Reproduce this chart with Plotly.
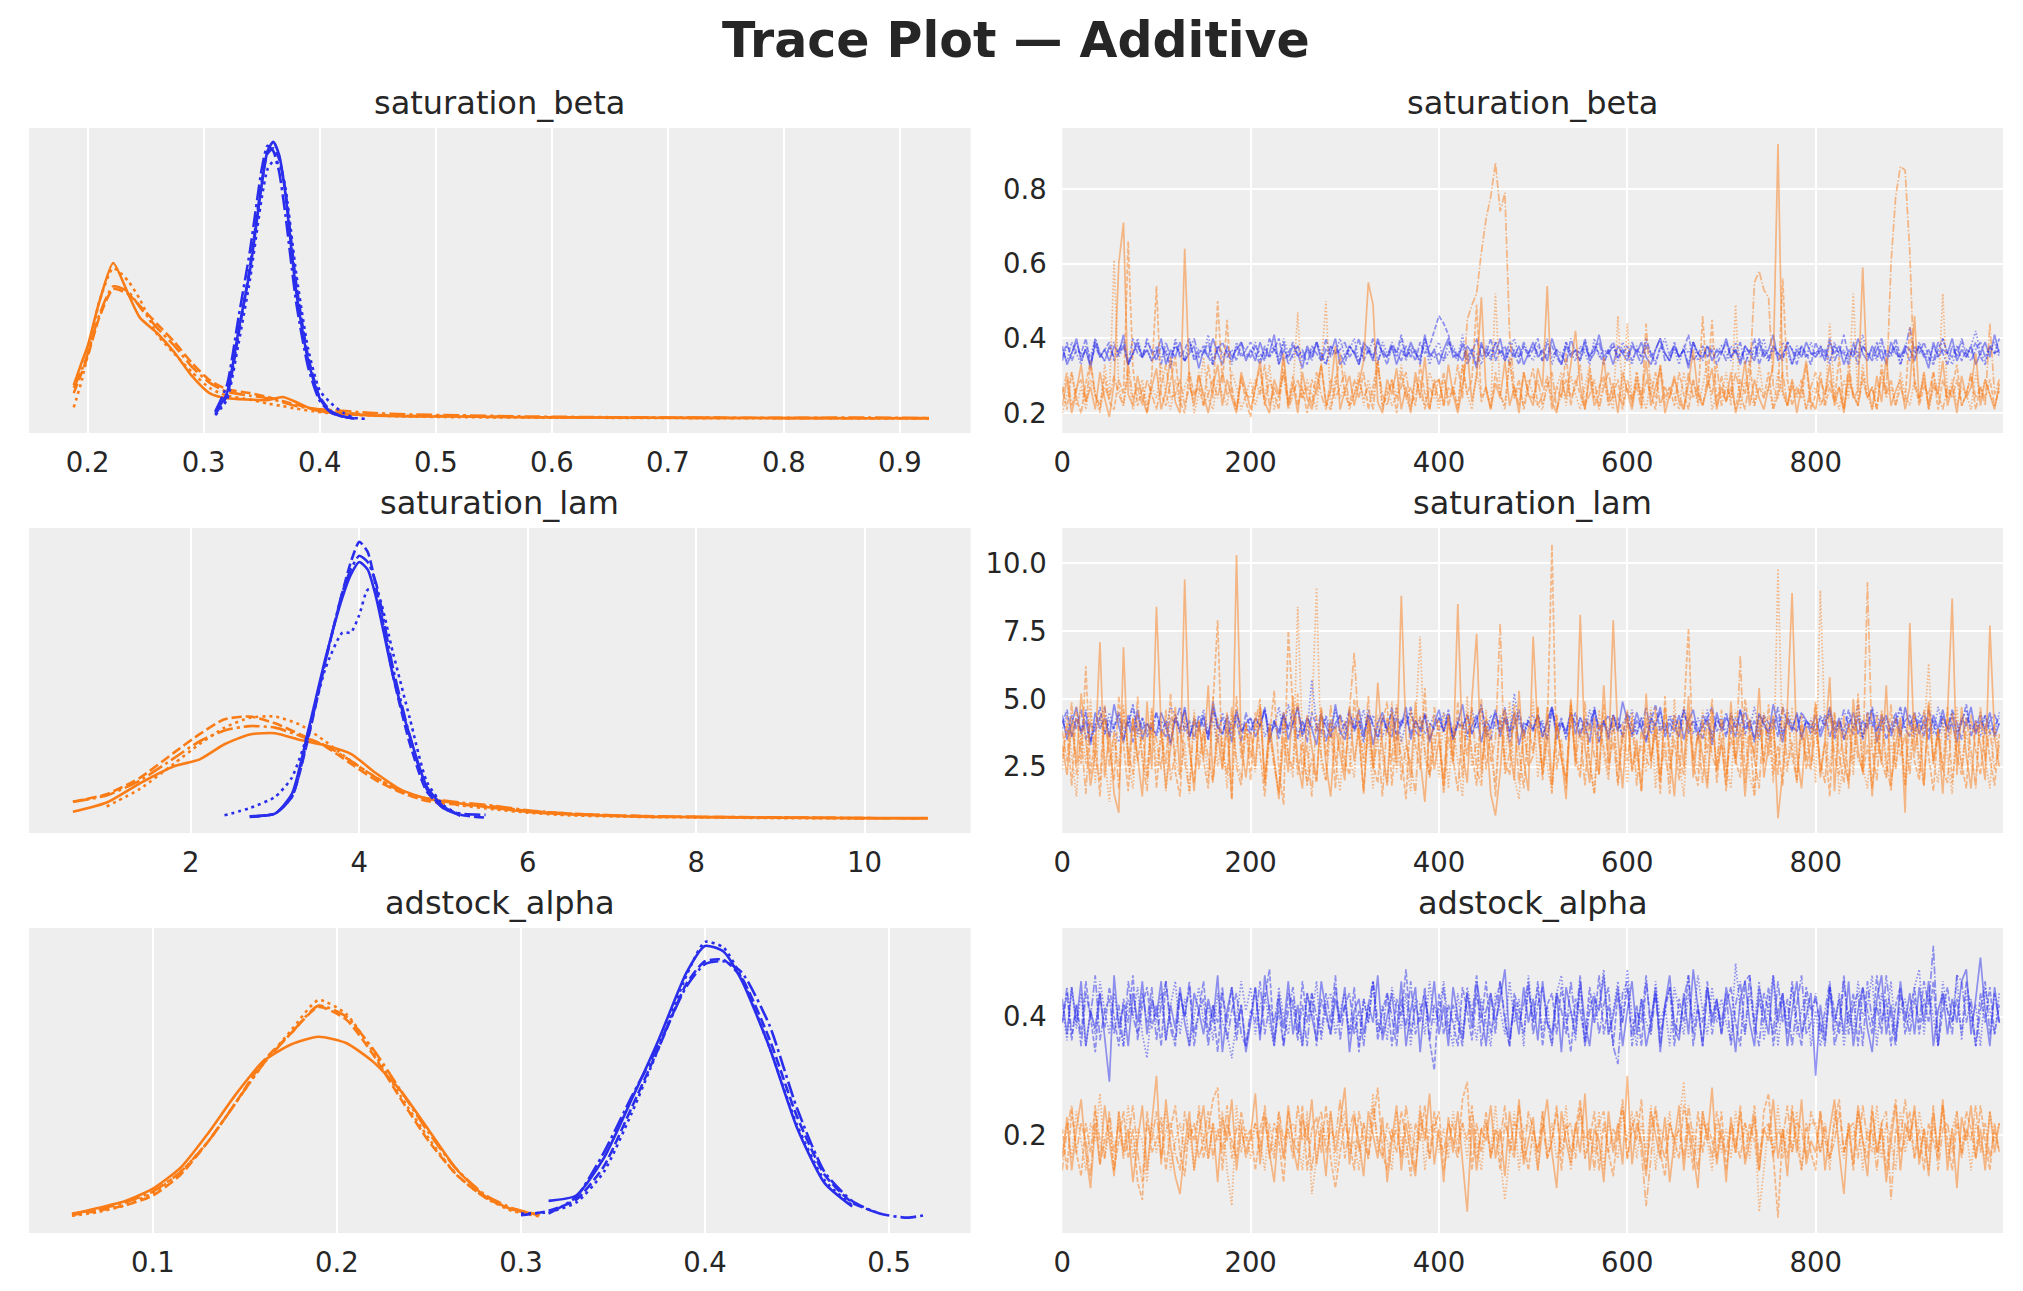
import plotly.graph_objects as go

# ---------------- KDE curves (left column), one list per chain ----------------
beta_blue_x = [0.31, 0.32, 0.33, 0.34, 0.35, 0.355, 0.36, 0.365, 0.37, 0.38, 0.39, 0.40, 0.41, 0.42, 0.43, 0.44]
beta_blue_kde = [
    [0.5, 2.0, 6.8, 11.5, 18.0, 20.6, 21.3, 20.3, 17.6, 9.6, 4.5, 1.6, 0.5, 0.2, 0.05, None],
    [0.4, 1.8, 6.5, 11.8, 18.2, 20.4, 20.8, 20.0, 17.8, 10.2, 4.8, 1.7, 0.6, 0.2, 0.05, None],
    [0.3, 1.5, 5.8, 10.8, 17.0, 19.2, 19.8, 19.6, 18.0, 11.0, 5.4, 2.2, 1.2, 0.5, 0.1, 0.02],
    [0.6, 2.6, 7.8, 13.0, 19.2, 21.0, 20.6, 19.0, 16.0, 8.8, 4.0, 1.4, 0.5, 0.2, 0.05, None],
]
beta_orange_x = [0.188, 0.195, 0.20, 0.21, 0.222, 0.235, 0.245, 0.26, 0.275, 0.29, 0.305, 0.32, 0.34, 0.355,
                 0.368, 0.38, 0.395, 0.41, 0.44, 0.48, 0.52, 0.58, 0.65, 0.72, 0.80, 0.87, 0.925]
beta_orange_kde = [
    [2.6, 4.4, 5.6, 9.0, 12.0, 9.6, 7.8, 6.6, 5.1, 3.3, 2.0, 1.6, 1.5, 1.45, 1.7, 1.3, 0.7, 0.5, 0.3, 0.2, 0.2, 0.15, 0.12, 0.1, 0.08, 0.07, 0.08],
    [2.0, 3.6, 4.8, 7.8, 10.0, 9.6, 8.7, 7.3, 5.9, 4.3, 3.0, 2.3, 2.0, 1.7, 1.4, 1.1, 0.8, 0.6, 0.35, 0.25, 0.22, 0.15, 0.12, 0.1, 0.08, 0.07, 0.06],
    [0.9, 3.0, 5.0, 9.0, 11.6, 10.6, 9.2, 6.5, 5.0, 3.6, 2.4, 1.8, 1.5, 1.2, 1.0, 0.8, 0.6, 0.45, 0.3, 0.2, 0.15, 0.12, 0.1, 0.08, 0.07, 0.06, 0.05],
    [2.4, 3.8, 5.0, 8.0, 10.2, 9.8, 8.6, 7.0, 5.6, 4.0, 2.8, 2.1, 1.8, 1.6, 1.3, 1.0, 0.8, 0.7, 0.5, 0.35, 0.3, 0.2, 0.15, 0.12, 0.1, 0.12, 0.08],
]

lam_blue_x = [2.4, 2.7, 3.0, 3.2, 3.4, 3.6, 3.8, 3.9, 4.0, 4.1, 4.2, 4.4, 4.6, 4.8, 5.0, 5.2, 5.5]
lam_blue_kde = [
    [None, 0.011, 0.022, 0.10, 0.36, 0.64, 0.88, 0.97, 1.02, 0.99, 0.88, 0.57, 0.33, 0.13, 0.05, 0.013, None],
    [None, 0.009, 0.022, 0.088, 0.33, 0.63, 0.90, 1.02, 1.10, 1.06, 0.92, 0.57, 0.30, 0.11, 0.044, 0.017, 0.006],
    [0.015, 0.044, 0.088, 0.165, 0.35, 0.60, 0.74, 0.74, 0.81, 0.91, 0.91, 0.66, 0.40, 0.15, 0.055, 0.017, None],
    [None, 0.011, 0.022, 0.088, 0.34, 0.63, 0.90, 0.99, 1.045, 1.02, 0.935, 0.60, 0.33, 0.12, 0.044, 0.022, 0.017],
]
lam_orange_x = [0.6, 1.0, 1.4, 1.8, 2.1, 2.4, 2.7, 3.0, 3.3, 3.6, 3.9, 4.2, 4.5, 4.8, 5.2, 5.6, 6.0,
                6.5, 7.0, 7.5, 8.0, 9.0, 10.0, 10.75]
lam_orange_kde = [
    [0.029, 0.066, 0.143, 0.21, 0.236, 0.297, 0.336, 0.341, 0.314, 0.292, 0.259, 0.182, 0.116, 0.081, 0.062, 0.044, 0.029, 0.019, 0.013, 0.009, 0.008, 0.006, 0.004, 0.004],
    [0.069, 0.099, 0.165, 0.264, 0.336, 0.396, 0.407, 0.38, 0.336, 0.288, 0.22, 0.154, 0.105, 0.072, 0.057, 0.05, 0.033, 0.022, 0.015, 0.011, 0.009, 0.006, 0.004, 0.003],
    [None, 0.05, 0.121, 0.22, 0.297, 0.363, 0.402, 0.407, 0.374, 0.308, 0.231, 0.165, 0.11, 0.077, 0.055, 0.039, 0.026, 0.015, 0.011, 0.008, 0.007, 0.004, 0.003, None],
    [0.069, 0.094, 0.154, 0.242, 0.308, 0.352, 0.369, 0.363, 0.33, 0.292, 0.231, 0.165, 0.11, 0.083, 0.066, 0.053, 0.035, 0.022, 0.015, 0.011, 0.009, 0.007, 0.004, 0.003],
]

alpha_blue_x = [0.30, 0.315, 0.33, 0.345, 0.36, 0.375, 0.39, 0.40, 0.41, 0.42, 0.435, 0.45, 0.465, 0.48, 0.495, 0.51, 0.52]
alpha_blue_kde = [
    [None, 0.99, 1.28, 3.3, 6.45, 9.75, 13.35, 14.78, 14.48, 12.9, 9.3, 4.95, 1.95, 0.68, None, None, None],
    [0.21, 0.45, 1.05, 2.85, 6.0, 9.3, 12.75, 13.95, 14.03, 13.05, 9.75, 5.55, 2.4, 0.9, 0.3, None, None],
    [0.3, 0.38, 0.9, 2.55, 5.7, 9.3, 13.2, 15.0, 14.7, 13.05, 9.3, 5.1, 2.1, 0.75, None, None, None],
    [None, 0.3, 1.2, 3.6, 6.6, 9.45, 12.6, 13.8, 13.95, 13.35, 10.5, 6.0, 2.55, 0.98, 0.3, 0.08, 0.23],
]
alpha_orange_x = [0.056, 0.07, 0.085, 0.10, 0.115, 0.13, 0.145, 0.16, 0.175, 0.19, 0.205, 0.22, 0.235,
                  0.25, 0.265, 0.28, 0.295, 0.31]
alpha_orange_kde = [
    [0.27, 0.6, 0.98, 1.65, 2.78, 4.65, 6.75, 8.55, 9.45, 9.87, 9.53, 8.48, 6.9, 4.8, 2.7, 1.28, 0.53, 0.23],
    [0.23, 0.45, 0.75, 1.28, 2.4, 4.2, 6.3, 8.55, 10.05, 11.48, 10.8, 8.85, 6.45, 4.2, 2.4, 1.2, 0.53, 0.23],
    [0.18, 0.38, 0.75, 1.43, 2.55, 4.2, 6.3, 8.4, 10.2, 11.85, 11.1, 9.0, 6.6, 4.35, 2.4, 1.2, 0.45, 0.15],
    [0.3, 0.53, 0.9, 1.5, 2.55, 4.2, 6.3, 8.4, 10.05, 11.55, 10.95, 9.15, 6.9, 4.65, 2.7, 1.35, 0.6, 0.23],
]

# ---------------- traces (right column), every 5th draw ----------------
draws = list(range(0, 1000, 5))

# saturation_beta, in hundredths
beta_blue_trace = [
    [38,33,36,40,34,37,32,39,35,37,34,38,36,41,33,36,39,35,37,34,
     36,40,33,37,35,39,34,36,38,32,37,35,40,36,33,38,35,37,39,34,
     37,34,39,35,36,41,33,37,35,38,36,32,38,35,39,34,37,36,40,33,
     35,38,36,33,39,37,34,40,36,35,38,33,37,35,39,36,34,41,35,37,
     33,37,40,35,36,34,38,36,32,39,35,37,36,40,34,37,35,38,33,36,
     39,35,37,34,40,36,33,38,35,37,36,39,34,36,41,35,37,33,38,36,
     34,38,36,39,35,33,37,40,36,34,38,35,37,32,39,36,35,38,34,37,
     36,40,35,37,33,38,36,34,39,35,37,41,34,36,38,33,37,35,39,36,
     35,37,34,39,36,38,33,37,35,40,36,34,38,35,37,33,39,36,35,38,
     37,34,38,36,32,39,35,37,36,40,34,37,35,38,33,36,39,35,41,36],
    [35,39,34,37,36,40,33,38,35,37,39,34,36,38,33,40,36,35,39,37,
     34,38,36,32,39,35,37,40,34,36,38,35,33,37,39,36,34,38,35,37,
     39,36,33,38,35,37,40,34,36,39,35,37,33,38,36,34,40,35,37,36,
     33,38,36,40,34,37,35,39,36,33,38,36,41,35,37,34,39,36,38,42,
     46,44,41,36,34,39,35,37,33,38,36,40,34,37,35,39,36,33,38,35,
     37,40,34,36,38,35,33,39,36,37,34,40,35,38,36,33,37,39,35,36,
     38,34,37,35,40,36,33,38,36,34,39,35,37,41,34,36,38,35,37,33,
     36,39,35,37,34,38,36,40,33,37,35,38,36,34,39,37,35,38,36,33,
     39,35,37,34,38,36,41,35,37,33,38,36,35,39,34,37,36,40,35,37,
     34,38,36,39,35,33,37,40,36,35,38,34,37,36,39,35,33,38,36,40],
    [37,34,39,36,33,38,35,40,36,34,37,39,35,38,33,36,40,35,37,34,
     38,35,37,33,40,36,34,39,35,37,36,41,34,38,35,37,33,39,36,35,
     36,39,34,37,35,38,33,40,36,35,38,34,37,36,39,35,33,38,36,40,
     35,37,40,34,36,38,35,33,39,36,37,35,40,34,38,36,35,39,33,37,
     39,34,36,38,35,41,34,37,36,33,38,35,39,36,34,37,40,35,38,36,
     34,38,36,40,33,37,35,39,36,34,38,36,33,40,35,37,36,38,34,39,
     36,33,38,35,39,36,34,37,40,35,37,33,38,36,39,34,37,35,38,36,
     38,36,34,39,35,37,33,38,36,40,34,37,35,39,36,33,38,36,35,39,
     35,38,36,33,39,35,37,34,38,36,41,35,37,34,39,36,35,38,33,37,
     37,35,39,36,34,38,35,40,36,33,37,39,35,38,42,36,34,37,39,35],
    [34,38,36,39,35,37,33,40,36,34,38,35,37,39,33,36,38,35,40,36,
     37,33,39,35,38,36,34,37,40,35,36,39,33,38,36,35,37,34,39,36,
     35,38,36,34,40,37,35,39,33,36,38,35,37,34,39,36,33,38,36,37,
     39,35,37,33,38,36,40,34,37,35,39,36,34,38,35,37,33,40,36,35,
     36,34,39,37,35,38,33,36,40,35,37,34,39,36,38,33,37,35,39,36,
     38,36,34,39,35,37,36,33,40,36,34,38,35,37,39,34,36,38,35,37,
     35,39,36,33,38,35,37,40,34,36,38,35,37,33,39,36,34,38,36,35,
     37,34,38,36,39,33,37,35,40,36,34,38,36,35,39,37,33,38,35,36,
     36,38,35,40,34,37,36,33,39,35,38,36,34,37,40,35,36,38,33,37,
     43,36,38,35,37,34,39,36,33,38,35,40,36,34,37,39,35,38,36,37],
]
beta_orange_trace = [
    [22,29,20,26,33,23,27,21,31,24,19,28,60,71,25,22,30,24,20,27,
     32,21,26,35,23,20,64,28,22,30,25,20,27,33,22,29,24,20,31,26,
     21,27,34,23,20,29,25,36,22,28,20,31,24,21,27,33,22,26,38,21,
     26,30,22,28,34,55,49,23,20,29,25,32,21,27,20,31,24,35,21,28,
     29,22,33,25,20,27,37,23,30,51,26,21,28,24,34,22,27,20,31,25,
     22,32,27,54,23,20,29,24,33,42,27,21,30,22,25,35,23,28,20,31,
     26,21,29,24,34,22,27,32,20,25,30,23,21,28,37,25,22,27,32,21,
     27,23,31,20,25,34,22,29,24,21,27,33,92,26,22,29,20,27,34,23,
     21,29,25,33,22,27,20,31,24,26,59,28,21,30,23,35,22,26,29,21,
     27,46,23,31,21,28,25,34,22,27,20,30,24,27,36,22,29,25,21,28],
    [27,21,31,24,20,28,34,25,22,30,23,21,29,25,66,32,22,27,20,30,
     54,25,22,29,35,23,20,31,25,27,22,33,24,50,28,45,25,21,30,23,
     19,27,32,22,29,25,21,34,23,30,22,27,20,29,25,33,23,21,27,36,
     25,22,29,24,31,21,27,34,22,25,29,20,31,24,27,22,33,25,21,29,
     23,31,22,27,21,33,25,29,49,23,27,21,31,25,22,35,24,29,21,27,
     32,22,25,30,21,27,24,36,22,29,25,21,32,24,27,30,22,25,29,21,
     27,23,31,22,29,25,21,33,24,27,22,31,25,21,29,23,46,27,45,22,
     30,23,27,21,29,25,34,22,27,24,31,21,25,56,29,22,27,24,33,21,
     25,31,22,27,23,35,21,29,25,22,31,24,27,21,33,25,29,22,27,23,
     43,29,22,27,25,31,21,29,24,27,33,22,25,30,21,27,24,29,22,26],
    [20,25,31,22,27,21,29,25,20,33,24,61,27,22,31,21,25,29,22,27,
     24,33,25,21,29,22,27,31,20,25,35,24,21,29,25,22,31,27,21,25,
     29,22,27,24,33,21,25,31,22,27,47,24,29,25,21,33,50,21,30,24,
     27,21,25,31,22,29,24,34,21,27,22,25,33,24,21,29,25,22,31,27,
     21,29,24,27,22,33,25,21,31,24,27,22,52,25,21,34,24,27,22,29,
     25,22,21,29,24,27,31,22,30,25,21,27,33,24,22,29,25,21,46,24,
     44,22,31,25,21,29,24,33,22,27,25,21,31,24,29,22,27,34,21,25,
     24,31,22,49,21,29,25,22,33,24,27,21,31,25,22,29,24,27,21,25,
     27,24,22,44,25,21,29,24,52,22,33,25,21,27,29,24,27,22,31,25,
     22,29,24,31,21,27,25,52,24,29,22,27,25,21,31,24,29,25,22,27],
    [25,31,22,27,29,23,33,25,21,27,24,30,25,22,33,24,27,22,29,25,
     21,27,33,24,25,29,22,27,24,31,22,25,29,24,31,25,27,21,29,25,
     24,29,25,33,22,27,24,31,21,25,29,24,27,22,31,25,21,29,24,27,
     31,22,25,29,24,27,21,33,25,22,29,24,27,31,22,25,29,21,27,24,
     29,22,27,25,33,24,45,49,52,63,72,78,87,74,79,41,27,22,31,25,
     24,29,22,27,31,21,25,29,24,27,33,22,25,29,21,27,31,24,25,22,
     29,24,27,21,44,25,31,22,27,24,29,25,21,31,24,27,22,29,25,33,
     22,27,24,31,25,21,29,55,58,53,51,27,24,31,22,27,25,29,21,27,
     31,22,25,29,24,27,21,33,25,22,29,24,27,21,31,25,60,78,86,85,
     63,27,24,29,22,31,25,21,27,24,29,22,25,31,24,27,22,44,25,29],
]

# saturation_lam, in tenths
lam_blue_trace = [
    [44,35,41,47,37,42,33,45,39,43,36,48,40,34,44,38,46,35,41,39,
     37,45,40,33,43,38,47,36,42,39,44,35,49,40,37,43,34,46,38,41,
     43,36,40,46,34,42,38,45,35,41,47,37,43,39,33,44,40,36,48,38,
     35,42,39,46,37,44,33,41,45,38,36,43,40,47,35,42,38,44,34,41,
     46,38,43,35,41,48,37,40,44,34,42,39,46,36,43,38,45,33,41,40,
     39,44,36,42,47,35,41,38,45,37,43,40,34,46,39,42,36,44,38,49,
     42,37,45,39,34,43,40,47,36,41,38,44,35,42,46,37,40,43,33,45,
     38,43,40,36,46,39,42,35,44,41,37,48,40,34,43,38,45,36,42,39,
     44,36,41,47,38,43,35,40,45,37,42,39,46,34,41,44,38,43,36,47,
     40,45,37,42,35,44,39,46,38,41,34,43,40,47,37,42,39,45,36,41],
    [41,46,36,43,38,45,34,40,47,37,42,39,44,35,41,48,38,43,36,40,
     45,37,42,34,44,39,46,36,41,38,43,35,47,40,37,44,39,42,34,45,
     38,43,40,47,35,41,37,44,39,46,36,42,34,45,40,38,43,36,41,44,
     37,45,39,42,34,46,40,36,43,38,47,35,41,44,37,42,39,45,35,40,
     43,38,46,35,41,39,44,37,42,48,36,40,45,38,43,34,41,46,37,42,
     39,44,36,41,47,38,43,35,40,45,37,42,39,46,34,41,44,38,43,36,
     45,40,37,43,35,42,48,38,41,36,44,39,46,37,42,40,35,43,47,38,
     41,36,44,39,46,37,42,34,45,40,38,43,36,47,41,39,44,35,42,40,
     37,43,40,45,35,42,38,46,39,44,36,41,47,38,43,35,40,45,37,42,
     44,38,42,36,46,40,35,43,39,45,37,41,48,36,42,39,44,37,40,43],
    [39,44,36,42,38,46,35,41,43,37,45,39,34,42,40,47,36,43,38,41,
     36,42,39,47,44,37,41,35,43,40,46,38,42,34,45,39,37,44,41,38,
     43,38,45,36,41,39,47,37,48,40,35,42,38,57,40,36,44,39,46,37,
     41,35,43,39,46,37,44,40,36,42,38,47,34,41,45,39,43,37,40,44,
     38,45,40,36,43,41,35,46,39,42,37,44,40,38,47,36,52,41,38,43,
     44,39,42,35,47,38,41,36,45,40,43,37,46,39,34,42,38,44,41,36,
     40,46,37,43,39,45,35,41,38,44,42,36,47,40,37,43,39,46,35,41,
     43,37,45,40,36,42,39,47,38,44,35,41,43,37,46,40,38,45,39,42,
     38,44,40,46,37,41,35,43,39,48,36,42,40,45,38,43,37,41,46,39,
     42,36,45,39,43,37,47,40,35,44,38,42,46,39,41,36,44,40,37,45],
    [42,37,44,39,46,35,41,38,43,47,36,40,45,38,42,34,44,39,41,37,
     45,39,36,43,41,47,38,42,35,44,40,37,46,39,43,36,41,45,38,40,
     37,43,40,46,38,42,35,44,39,41,47,36,43,40,38,45,34,42,39,44,
     40,46,38,42,36,44,41,35,43,39,45,37,42,40,47,38,36,44,41,39,
     43,38,45,36,41,40,44,37,42,47,39,35,43,41,46,38,40,44,36,42,
     38,44,40,35,46,39,42,37,45,41,36,43,40,47,38,42,35,44,39,41,
     44,36,42,39,47,37,41,45,38,43,40,36,46,39,42,35,44,41,37,43,
     39,45,37,43,40,46,38,42,35,44,41,39,47,36,43,40,38,45,42,37,
     41,38,44,36,42,39,46,40,37,43,35,45,41,38,44,40,36,42,47,39,
     36,43,40,45,38,42,37,44,39,46,41,35,43,40,38,45,37,42,44,40],
]
lam_orange_trace = [
    [33,22,41,26,52,35,18,30,71,21,38,15,8,69,25,43,29,14,49,24,
     84,39,17,31,47,22,94,34,16,42,28,55,20,37,24,45,13,103,33,21,
     38,25,48,19,41,28,13,36,23,51,27,17,44,32,20,46,26,14,40,30,
     20,47,27,39,15,42,24,56,33,18,45,26,88,36,21,49,28,12,41,24,
     35,17,44,27,85,31,19,50,74,24,40,15,7,23,46,32,20,53,27,16,
     73,38,23,47,18,41,29,13,50,25,81,32,19,43,22,55,27,79,36,17,
     44,24,35,16,52,27,40,19,47,31,14,42,25,51,21,38,29,17,46,23,
     34,18,49,26,41,14,37,28,54,21,33,44,6,23,47,89,30,17,40,25,
     48,21,35,58,16,42,27,19,50,31,23,45,14,38,26,55,18,33,43,8,
     78,30,41,18,49,26,38,15,44,87,22,47,29,17,42,33,20,77,36,25],
    [28,41,18,47,26,62,22,37,14,44,31,20,51,33,16,43,27,39,21,46,
     17,38,26,52,23,14,45,31,19,42,27,17,48,79,24,39,13,51,28,41,
     20,45,30,14,36,53,24,11,75,46,22,34,18,28,19,47,29,41,17,44,
     27,22,50,35,16,43,26,19,41,49,18,38,29,13,46,33,24,54,21,32,
     42,15,36,26,49,21,45,30,18,50,24,39,14,44,27,22,48,31,17,40,
     30,47,20,38,107,24,35,17,45,28,21,49,26,15,41,32,22,44,18,36,
     46,23,32,16,43,27,39,15,51,24,35,20,45,76,26,18,42,30,50,19,
     36,16,44,27,21,50,38,14,42,26,48,22,33,18,45,29,20,41,24,35,
     49,23,34,14,45,29,19,41,26,52,22,33,17,44,27,21,48,24,39,18,
     42,27,20,46,29,16,39,24,47,19,35,26,17,44,31,22,41,28,18,37],
    [24,44,29,14,39,26,50,19,45,29,12,37,25,48,27,17,42,29,20,47,
     25,38,16,43,28,21,34,15,46,28,39,20,51,25,36,17,44,28,21,41,
     32,23,47,18,39,27,15,43,29,21,84,35,19,44,91,26,20,39,28,16,
     42,29,21,47,25,36,17,44,28,19,49,23,36,27,16,41,73,28,22,37,
     21,45,17,40,27,14,51,25,34,21,46,29,19,43,25,49,21,13,38,28,
     50,21,38,25,16,44,28,20,48,31,23,41,27,15,46,29,20,43,25,36,
     19,45,27,33,23,47,17,40,28,21,50,27,14,43,29,23,46,19,37,27,
     41,25,17,46,28,38,21,15,44,27,40,19,98,29,23,47,20,37,27,43,
     19,90,37,23,45,15,28,41,22,49,25,17,40,28,46,21,34,25,43,18,
     29,45,22,37,63,27,19,43,28,15,47,24,38,26,20,44,28,17,41,29],
    [38,27,49,22,36,15,45,28,20,48,25,38,17,46,31,22,51,27,16,41,
     35,24,46,20,30,40,27,16,44,24,38,28,19,43,31,22,47,25,18,41,
     28,41,50,20,38,25,16,45,29,24,52,22,33,14,44,29,20,48,27,36,
     23,46,67,37,28,51,25,35,14,43,27,48,20,33,26,15,44,31,22,47,
     36,20,44,28,16,41,29,47,24,18,43,27,35,78,22,30,45,19,39,25,
     29,47,22,36,15,44,28,20,49,27,39,18,42,29,22,48,25,35,19,41,
     27,43,18,39,28,24,47,21,34,15,44,28,22,45,27,37,19,42,29,24,
     46,22,36,27,66,19,43,28,17,45,29,39,22,48,25,34,19,44,28,24,
     39,27,19,47,29,22,44,17,41,28,24,93,31,20,45,27,16,43,29,37,
     22,44,28,18,48,27,39,24,19,45,29,22,43,31,17,47,27,39,24,33],
]

# adstock_alpha, in hundredths
alpha_blue_trace = [
    [43,37,45,39,46,35,41,38,44,36,29,47,38,42,35,44,39,46,37,43,
     40,46,36,42,38,45,39,35,44,41,37,43,39,47,34,41,45,38,42,34,
     39,45,36,47,41,35,43,38,46,37,42,35,44,40,36,46,41,37,43,39,
     45,34,41,43,37,42,39,47,36,40,44,37,46,35,41,45,34,43,39,46,
     37,42,35,45,40,36,44,38,46,41,35,44,39,43,48,36,42,37,45,39,
     43,36,46,39,37,44,34,45,41,37,46,39,35,43,41,47,37,40,45,35,
     41,46,37,43,35,39,45,34,42,47,38,36,44,37,48,41,35,45,39,43,
     37,45,41,34,43,46,39,35,45,41,37,47,39,44,35,41,46,37,40,44,
     30,42,36,45,39,43,37,46,35,41,45,38,34,43,47,37,42,36,46,39,
     44,37,45,39,46,35,41,44,37,43,39,46,48,37,43,50,41,35,45,39],
    [39,44,36,42,37,46,40,34,44,38,45,40,35,43,39,47,36,42,45,38,
     42,35,46,39,36,44,40,45,35,41,46,37,42,34,44,39,45,36,42,35,
     40,45,37,43,48,36,41,35,44,42,36,46,39,44,35,43,40,37,45,39,
     42,37,45,34,43,39,46,36,41,44,35,43,40,48,37,42,39,45,36,31,
     44,37,42,39,35,45,41,36,44,39,46,37,42,46,39,35,44,41,37,45,
     39,46,35,42,44,37,45,40,34,43,41,36,45,39,47,37,42,35,44,39,
     45,37,42,35,46,39,44,37,41,45,35,43,39,47,37,42,35,45,40,43,
     37,42,45,39,35,46,47,37,43,39,45,35,41,44,37,46,39,35,45,41,
     43,39,35,45,41,37,46,39,44,35,45,41,37,47,39,43,35,42,45,37,
     41,45,37,43,39,46,35,41,45,39,43,37,46,41,35,44,39,45,37,42],
    [42,36,45,38,44,35,41,37,46,41,37,44,39,35,43,40,45,37,33,42,
     39,44,36,42,46,37,43,35,40,45,39,42,36,44,39,37,33,40,46,41,
     45,37,42,44,39,35,45,40,37,43,39,35,44,40,46,36,42,44,37,41,
     44,37,40,35,43,39,46,37,42,36,45,41,38,44,35,43,42,37,46,39,
     41,46,39,35,44,37,45,41,36,43,39,35,44,41,37,46,39,43,35,47,
     39,45,37,42,35,44,47,39,41,36,45,35,43,39,42,48,37,41,46,39,
     48,40,35,43,39,37,46,39,42,35,45,41,37,44,39,47,41,37,45,39,
     43,39,36,49,41,37,44,39,46,36,42,47,35,43,39,45,37,41,44,35,
     41,35,39,45,37,44,35,41,37,46,40,42,47,35,44,39,46,37,41,43,
     39,45,48,37,44,40,35,46,41,39,47,36,44,39,42,35,45,41,37,44],
    [39,45,37,42,35,44,40,47,36,41,43,37,42,35,46,40,37,44,39,45,
     36,42,46,38,35,44,40,46,37,41,43,35,42,39,45,36,41,44,37,35,
     41,39,46,37,42,39,44,35,41,45,37,42,35,44,40,37,44,39,47,36,
     42,44,37,41,35,42,46,39,37,44,40,35,43,38,46,37,41,44,36,42,
     39,45,37,42,39,35,44,40,47,35,41,44,37,46,40,35,43,39,42,46,
     37,42,45,39,35,44,41,37,46,39,47,35,41,44,37,42,45,35,32,44,
     46,35,41,39,47,37,44,35,42,45,39,37,43,47,35,41,39,46,37,42,
     39,44,35,42,46,37,47,39,35,44,41,37,46,39,43,35,42,47,37,39,
     44,37,41,46,35,39,47,37,42,44,35,46,39,42,37,47,40,35,44,41,
     37,43,39,46,42,52,35,44,41,37,47,46,39,43,35,41,46,37,44,39],
]
alpha_orange_trace = [
    [16,23,14,21,26,17,11,22,15,25,19,13,24,17,21,12,19,25,14,22,
     30,15,26,18,13,10,18,24,14,20,25,16,22,12,23,19,26,14,21,17,
     20,27,15,23,17,12,22,16,25,18,14,23,19,26,15,21,13,24,17,22,
     28,15,23,19,13,24,20,16,23,12,19,25,14,22,17,13,24,19,27,15,
     21,12,23,17,24,15,7,22,14,21,19,25,16,21,13,24,17,26,15,19,
     23,14,21,26,17,11,24,19,15,22,17,27,14,21,19,12,24,17,22,15,
     30,15,22,19,13,24,20,16,23,12,19,25,14,22,17,11,24,19,28,15,
     21,12,23,17,24,15,19,23,14,21,19,26,16,21,13,24,17,26,15,19,
     17,24,14,21,26,17,10,22,15,25,19,13,24,17,21,12,19,25,14,22,
     19,25,15,21,13,24,17,26,14,21,11,23,19,25,16,21,14,24,17,22],
    [21,14,24,17,13,22,17,25,15,19,23,14,19,24,16,21,12,9,24,17,
     19,23,14,21,25,17,13,22,19,24,16,21,26,28,14,22,19,16,24,19,
     21,14,21,24,16,22,19,12,24,19,17,25,14,21,23,17,25,16,11,17,
     22,19,14,24,19,16,22,28,17,14,21,17,24,19,13,22,19,25,16,21,
     24,14,19,22,17,26,29,14,22,17,24,16,21,14,22,19,16,25,19,14,
     21,17,24,16,19,25,14,22,17,21,26,16,19,24,14,22,17,13,21,25,
     16,22,19,26,14,21,24,17,13,22,19,16,25,21,14,24,17,22,19,16,
     24,14,21,17,25,16,22,19,14,24,27,17,6,21,16,25,19,14,22,17,
     14,24,19,16,22,26,17,21,14,24,19,16,25,17,22,14,21,26,17,19,
     24,16,21,14,22,19,16,25,19,14,22,17,24,21,16,25,19,14,22,17],
    [17,22,16,24,19,14,22,19,27,16,21,14,24,17,25,16,21,19,12,22,
     17,21,24,14,19,22,17,21,14,25,19,16,22,19,24,14,8,25,17,21,
     16,22,19,14,22,17,24,16,21,22,19,14,24,10,16,22,19,24,14,21,
     24,17,19,14,22,19,27,17,21,19,14,24,19,16,22,17,25,14,21,22,
     17,21,16,24,19,22,16,24,19,14,22,17,25,16,9,17,24,14,21,22,
     19,14,24,17,22,16,19,25,14,21,24,16,21,17,24,14,22,19,16,24,
     19,24,16,22,17,25,14,21,19,24,16,22,29,16,21,17,24,19,14,22,
     17,21,16,24,19,22,16,24,7,14,22,17,25,16,21,17,24,14,21,22,
     22,17,21,14,24,19,16,22,19,24,14,21,17,25,16,22,19,14,24,17,
     21,16,24,19,14,22,17,25,16,21,24,17,21,14,22,19,16,24,19,22],
    [14,21,25,17,22,19,13,24,19,16,24,17,22,16,19,25,17,12,22,19,
     24,16,21,22,17,14,24,19,22,16,19,24,16,21,17,25,16,21,22,16,
     19,22,17,25,19,16,24,19,21,16,25,19,22,14,21,24,17,21,19,26,
     16,21,24,17,22,16,25,19,16,22,19,21,16,25,19,14,22,21,16,24,
     19,17,22,19,16,22,19,25,16,21,22,16,21,19,25,17,22,21,16,24,
     21,17,22,16,19,24,17,21,22,16,25,19,21,14,22,24,17,21,19,26,
     16,21,24,17,8,16,25,19,16,22,19,21,16,25,19,14,22,21,16,24,
     19,17,22,19,16,22,19,25,16,21,22,16,21,19,25,17,22,21,16,24,
     21,17,22,16,19,24,17,21,22,16,25,19,21,14,22,24,9,21,19,26,
     19,24,16,21,17,25,14,21,22,17,24,16,21,19,25,17,22,16,21,17],
]

params = ["saturation_beta", "saturation_lam", "adstock_alpha"]
left_ticks = [[0.2, 0.3, 0.4, 0.5, 0.6, 0.7, 0.8, 0.9], [2, 4, 6, 8, 10], [0.1, 0.2, 0.3, 0.4, 0.5]]
right_ticks = [[0.2, 0.4, 0.6, 0.8], [2.5, 5.0, 7.5, 10.0], [0.2, 0.4]]
draw_ticks = [0, 200, 400, 600, 800]

BLUE = "#2a2eec"
ORANGE = "#fa7c17"
BLUE_T = "rgba(42,46,236,0.5)"
ORANGE_T = "rgba(250,124,23,0.5)"
kde_dash = ["solid", "10px,4px", "3px,4px", "16px,4px,3px,4px"]
trace_dash = ["solid", "5px,2px", "1.5px,2px", "8px,2px,1.5px,2px"]

kde_sets = [
    [(beta_orange_x, beta_orange_kde, ORANGE), (beta_blue_x, beta_blue_kde, BLUE)],
    [(lam_orange_x, lam_orange_kde, ORANGE), (lam_blue_x, lam_blue_kde, BLUE)],
    [(alpha_orange_x, alpha_orange_kde, ORANGE), (alpha_blue_x, alpha_blue_kde, BLUE)],
]
trace_sets = [
    [(beta_blue_trace, BLUE_T, 100), (beta_orange_trace, ORANGE_T, 100)],
    [(lam_blue_trace, BLUE_T, 10), (lam_orange_trace, ORANGE_T, 10)],
    [(alpha_blue_trace, BLUE_T, 100), (alpha_orange_trace, ORANGE_T, 100)],
]

# axis ranges (matplotlib style 5% margins)
left_xrange = [[0.1494, 0.961], [0.078, 11.26], [0.0326, 0.5444]]
left_yrange = [[-1.065, 22.365], [-0.055, 1.155], [-0.75, 15.75]]
right_yrange = [[0.147, 0.963], [0.055, 11.30], [0.034, 0.55]]

# page body has an 8px margin, so the figure is drawn 16px smaller
W, H = 2007, 1275
col_px = [(12, 958), (1050, 1995)]
row_px = [(120, 425), (520, 825), (920, 1225)]
FONT = "DejaVu Sans"
TXT = "#262626"
TICK = 27.5

fig = go.Figure()
layout = dict(
    width=W, height=H,
    margin=dict(l=0, r=0, t=0, b=0),
    paper_bgcolor="white",
    plot_bgcolor="#eeeeee",
    showlegend=False,
    font=dict(family=FONT, size=TICK, color=TXT),
)
annotations = []

for r, name in enumerate(params):
    for c in range(2):
        n = r * 2 + c + 1
        xa, ya = "x%d" % n, "y%d" % n
        if c == 0:
            for xs, chains, col in kde_sets[r]:
                for k, ys in enumerate(chains):
                    fig.add_trace(go.Scatter(
                        x=xs, y=ys, mode="lines", xaxis=xa, yaxis=ya,
                        line=dict(color=col, width=2.6, dash=kde_dash[k], shape="spline", smoothing=0.6),
                        hoverinfo="skip"))
        else:
            for chains, col, scale in trace_sets[r]:
                for k, vals in enumerate(chains):
                    fig.add_trace(go.Scatter(
                        x=draws, y=[v / scale for v in vals], mode="lines", xaxis=xa, yaxis=ya,
                        line=dict(color=col, width=1.7, dash=trace_dash[k]),
                        hoverinfo="skip"))

        x0, x1 = col_px[c]
        y0, y1 = row_px[r]
        xkey = "xaxis" if n == 1 else "xaxis%d" % n
        ykey = "yaxis" if n == 1 else "yaxis%d" % n
        common = dict(showline=False, zeroline=False, gridcolor="white", gridwidth=2,
                      tickfont=dict(family=FONT, size=TICK, color=TXT))
        xcommon = dict(common, ticks="outside", ticklen=5, tickcolor="rgba(0,0,0,0)")
        ycommon = dict(common, ticks="outside", ticklen=9, tickcolor="rgba(0,0,0,0)")
        if c == 0:
            layout[xkey] = dict(xcommon, domain=[x0 / W, x1 / W], anchor=ya,
                                range=left_xrange[r], tickvals=left_ticks[r], showgrid=True)
            layout[ykey] = dict(common, domain=[1 - y1 / H, 1 - y0 / H], anchor=xa,
                                range=left_yrange[r], showgrid=False, showticklabels=False, ticks="")
        else:
            layout[xkey] = dict(xcommon, domain=[x0 / W, x1 / W], anchor=ya,
                                range=[0, 999], tickvals=draw_ticks, showgrid=True)
            layout[ykey] = dict(ycommon, domain=[1 - y1 / H, 1 - y0 / H], anchor=xa,
                                range=right_yrange[r], tickvals=right_ticks[r], showgrid=True,
                                tickformat=".1f")
        annotations.append(dict(
            text=name, xref="paper", yref="paper", x=(x0 + x1) / 2 / W, y=1 - (y0 - 25) / H,
            xanchor="center", yanchor="middle", showarrow=False,
            font=dict(family=FONT, size=32, color=TXT)))

annotations.append(dict(
    text="<b>Trace Plot — Additive</b>", xref="paper", yref="paper", x=0.5, y=1 - 33 / H,
    xanchor="center", yanchor="middle", showarrow=False,
    font=dict(family=FONT, size=49, color=TXT)))
layout["annotations"] = annotations
fig.update_layout(**layout)

fig.write_html("out.html")
